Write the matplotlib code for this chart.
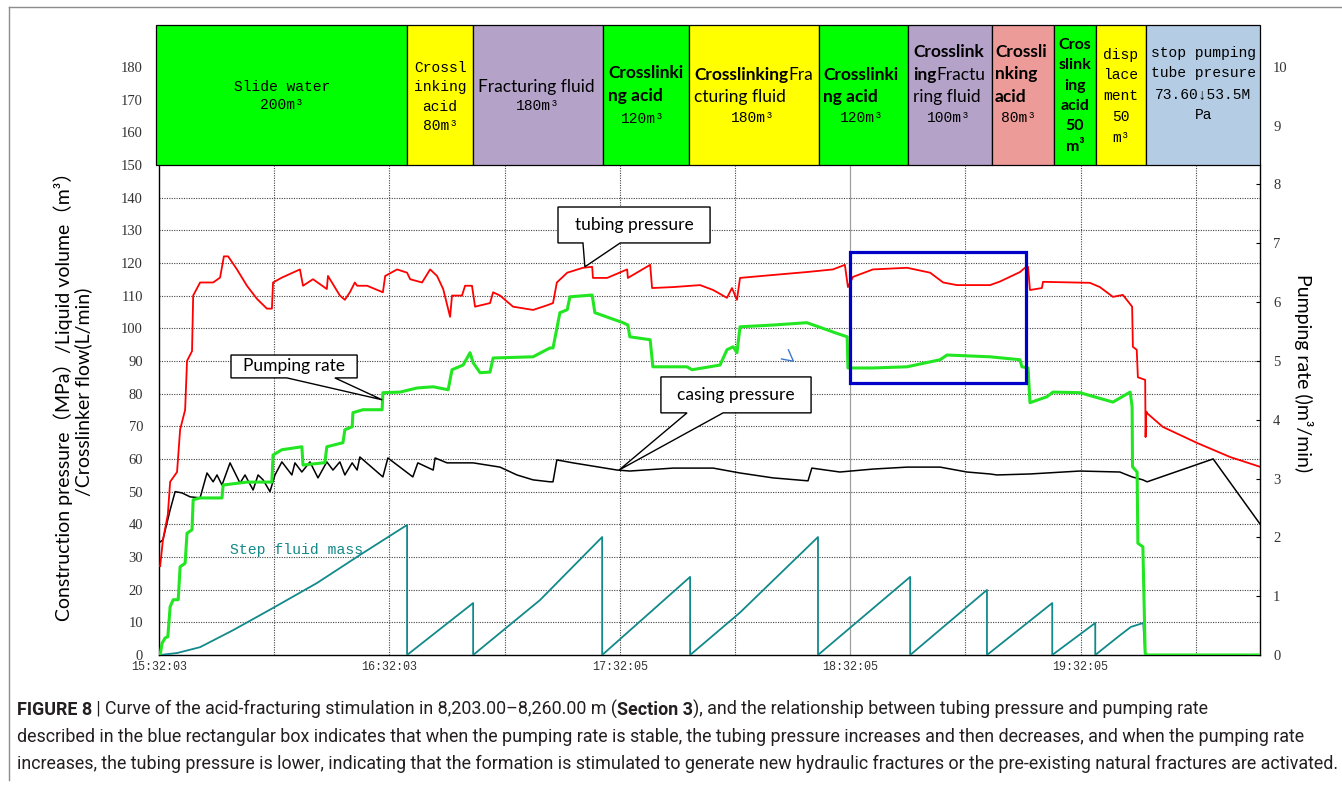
import matplotlib
matplotlib.use("Agg")
import matplotlib.pyplot as plt
from matplotlib.patches import Rectangle, Polygon
from matplotlib.lines import Line2D

# x is minutes after 15:32:03
time_ticks = [0, 60, 120, 180, 240]
time_labels = ["15:32:03", "16:32:03", "17:32:05", "18:32:05", "19:32:05"]

# tubing pressure (MPa)
tubing = [(0.3, 27.2), (1.0, 35), (2.3, 43), (2.9, 53), (4.7, 56), (5.5, 69), (6.8, 75),
          (7.3, 90), (8.6, 93), (8.9, 110), (10.7, 114), (14.1, 114), (15.9, 115.5),
          (16.9, 122), (18.0, 122), (20.3, 118), (22.9, 113), (25.5, 109), (28.1, 106),
          (29.4, 106), (29.7, 114), (32.0, 115.5), (36.7, 118), (37.5, 113), (40.1, 115),
          (43.7, 112), (44.0, 116), (47.1, 110), (48.4, 108.7), (49.7, 111), (51.0, 114),
          (51.6, 113), (54.2, 113), (58.3, 111), (58.9, 116), (62.0, 118), (64.6, 117),
          (65.4, 115), (68.5, 114), (70.6, 118), (72.4, 116), (74.0, 112), (75.8, 103.5),
          (76.3, 110), (78.9, 110), (79.7, 113), (81.5, 113), (82.3, 106.6), (86.2, 107.7),
          (87.0, 111), (88.8, 110), (92.2, 106.6), (97.4, 105.6), (101.0, 107),
          (102.6, 107.7), (103.6, 114), (106.3, 117), (110.4, 118.5), (112.8, 118.8),
          (113.0, 115.4), (116.7, 115.4), (121.9, 118), (122.1, 115.4), (127.9, 119.4),
          (128.4, 112.3), (133.9, 112.6), (140.9, 113.2), (144.3, 111.7), (147.9, 109.3),
          (149.2, 112.3), (150.5, 108.7), (151.3, 115.4), (159.9, 116.3), (168.7, 117.2),
          (175.5, 118), (178.6, 119.4), (179.4, 112.6), (180.7, 115.7), (185.9, 118),
          (194.8, 118.5), (200.8, 117), (204.2, 114), (207.8, 113.2), (216.4, 113.2),
          (219.0, 114.3), (224.2, 117.2), (225.5, 118.5), (226.3, 118.8), (226.8, 111.7),
          (229.9, 112.3), (230.2, 114.2), (242.4, 113.9), (245.0, 112.6), (248.4, 109.6),
          (251.0, 110.2), (253.4, 106.6), (253.6, 94.3), (254.6, 93.4), (254.9, 85),
          (256.8, 84.2), (256.9, 66.7), (257.1, 74.5), (257.3, 74), (261.4, 69.8),
          (270.3, 64.9), (278.9, 60.6), (286.7, 57.6)]

# casing pressure (MPa)
casing = [(0.3, 34.6), (1.0, 35.2), (2.9, 44.4), (4.2, 50), (6.0, 49.6), (8.1, 48.4),
          (10.7, 48.1), (12.5, 55.7), (14.1, 53.0), (15.1, 55.1), (16.4, 52.0), (18.5, 58.8),
          (21.1, 52.6), (22.4, 55.1), (24.5, 50.5), (25.8, 55.1), (27.1, 53.6), (28.9, 50),
          (30.2, 55.1), (32.0, 59.1), (34.6, 55.1), (35.4, 58.8), (37.2, 56), (39.3, 59.1),
          (41.4, 54.2), (43.7, 59.1), (45.3, 56.6), (47.1, 59.1), (48.4, 55.1), (50.3, 58.8),
          (51.6, 56.6), (52.3, 60.6), (58.3, 54.5), (59.6, 60.3), (66.1, 54.5), (67.4, 58.8),
          (71.4, 56.6), (71.9, 60.3), (75.0, 58.8), (81.8, 58.8), (88.8, 57.5), (93.2, 55.1),
          (97.4, 53.6), (101.8, 53.0), (102.6, 53.0), (103.6, 59.7), (107.8, 58.8),
          (119.3, 56.6), (122.6, 56.3), (133.9, 57.2), (144.3, 57.2), (151.3, 55.7),
          (159.9, 54.2), (169.0, 53.3), (170.0, 57.2), (177.3, 56), (185.9, 56.9),
          (194.8, 57.5), (203.4, 57.5), (210.4, 56), (216.4, 55.4), (218.2, 55.1),
          (226.8, 55.4), (239.8, 56.3), (250.2, 56), (253.4, 54.5), (256.2, 53.6),
          (257.3, 53), (274.5, 60), (286.7, 40.1)]

# pumping rate (m3/min), right axis
rate = [(0.3, 0), (0.8, 0.20), (1.6, 0.29), (2.3, 0.31), (2.9, 0.82), (3.7, 0.94), (5.0, 0.94),
        (5.5, 1.50), (6.8, 1.56), (7.3, 2.07), (8.6, 2.13), (8.9, 2.64), (10.7, 2.67),
        (16.4, 2.67), (16.7, 2.89), (22.9, 2.94), (29.4, 2.94), (29.7, 3.40), (32.0, 3.49),
        (37.2, 3.54), (37.5, 3.23), (43.2, 3.27), (43.7, 3.54), (47.9, 3.61), (48.4, 3.83),
        (50.3, 3.88), (50.5, 4.12), (53.1, 4.17), (58.1, 4.17), (58.3, 4.46), (62.8, 4.47),
        (67.2, 4.54), (71.4, 4.56), (75.3, 4.51), (76.3, 4.85), (79.2, 4.93), (81.0, 5.14),
        (81.8, 4.97), (83.6, 4.80), (86.2, 4.81), (87.0, 5.05), (97.4, 5.07), (101.8, 5.22),
        (102.6, 5.22), (104.4, 5.82), (106.3, 5.87), (107.0, 6.09), (112.8, 6.12),
        (113.5, 5.82), (120.8, 5.65), (122.1, 5.61), (122.6, 5.41), (127.9, 5.36),
        (128.6, 4.90), (137.5, 4.90), (138.8, 4.85), (146.1, 4.93), (147.9, 5.19),
        (149.5, 5.24), (150.5, 5.14), (151.3, 5.58), (159.9, 5.61), (168.7, 5.65),
        (173.9, 5.53), (176.0, 5.48), (179.2, 5.41), (179.4, 4.88), (185.9, 4.88),
        (194.8, 4.90), (203.4, 5.02), (205.2, 5.10), (216.4, 5.07), (224.2, 5.02),
        (224.7, 4.90), (226.3, 4.88), (226.8, 4.29), (231.2, 4.39), (232.8, 4.47),
        (239.8, 4.46), (248.4, 4.30), (252.9, 4.47), (253.4, 4.22), (253.5, 3.20),
        (254.7, 3.11), (254.9, 1.90), (256.2, 1.84), (256.8, 0.03), (257.3, 0), (286.7, 0)]

# fluid pumped in the current stage (m3)
step_mass = [(0.3, 0), (4.7, 0.6), (10.7, 2.4), (19.3, 7.6), (29.7, 14.4), (41.1, 22),
             (53.1, 31.2), (64.6, 39.8), (64.6, 0), (81.8, 15.9), (81.8, 0), (99.2, 16.8),
             (115.4, 36.1), (115.4, 0), (138.3, 23.9), (138.3, 0), (151.3, 13),
             (171.6, 36.1), (171.6, 0), (195.6, 23.9), (195.6, 0), (215.6, 19.9),
             (215.6, 0), (232.6, 15.9), (232.6, 0), (243.8, 9.8), (243.8, 0), (250.3, 6.1),
             (253.1, 8.6), (256.3, 9.8), (256.8, 0)]

# treatment stages along the top
stage_edges = [-0.8, 64.6, 81.8, 115.6, 138.0, 171.9, 195.0, 216.9, 233.1, 244.0, 257.0, 286.7]
stage_colors = ["#00ff00", "#ffff00", "#b4a2c8", "#00ff00", "#ffff00", "#00ff00",
                "#b4a2c8", "#ec9b98", "#00ff00", "#ffff00", "#b4cde4"]

X_MAX = 286.7
Y_MAX = 192.8
BAND = 150
RATE_SCALE = 18.0

MONO = dict(family=["Liberation Mono", "DejaVu Sans Mono"], size=10.5)
SANS = dict(family="Lato", size=12.5)
BOLD = dict(family="Lato", size=12.5, weight="bold")
SERIF = dict(family="Liberation Serif", size=10.5, color="#333333")

fig = plt.figure(figsize=(13.42, 7.93), dpi=100)
ax = fig.add_axes([159 / 1342, 1 - 655 / 793, 1101 / 1342, 630 / 793])
ax2 = ax.twinx()
ax.set_xlim(0, X_MAX)
ax.set_ylim(0, Y_MAX)
ax2.set_ylim(0, Y_MAX / RATE_SCALE)

for s in ["top", "right"]:
    ax.spines[s].set_visible(False)
for s in ["top", "left", "bottom"]:
    ax2.spines[s].set_visible(False)
ax.spines["left"].set_bounds(0, BAND)
ax2.spines["right"].set_bounds(0, BAND / RATE_SCALE)
for sp in [ax.spines["left"], ax.spines["bottom"], ax2.spines["right"]]:
    sp.set_linewidth(1.0)

ax.set_yticks(range(0, 190, 10))
ax.set_yticklabels([str(v) for v in range(0, 190, 10)], **SERIF)
ax.tick_params(axis="y", length=0, pad=11.5)
ax.set_xticks(time_ticks)
ax.set_xticklabels(time_labels, family=MONO["family"], size=8.5, color="#333333")
ax.tick_params(axis="x", length=0, pad=4)
ax2.set_yticks(range(0, 11))
ax2.set_yticklabels([str(v) for v in range(0, 11)], **SERIF)
ax2.tick_params(axis="y", direction="in", length=3, width=0.8, pad=9.5)

# dotted grid
for v in range(10, BAND, 10):
    ax.axhline(v, color="#444444", lw=0.8, ls=(0, (1, 1.2)), zorder=1)
for t in range(30, int(X_MAX), 30):
    if t == 180:
        ax.axvline(t, color="#a0a0a0", lw=0.9, zorder=1)
    else:
        ax.axvline(t, color="#444444", lw=0.8, ls=(0, (1, 1.2)), zorder=1)

ax.plot(*zip(*step_mass), color="#12898a", lw=1.3, zorder=3)
ax.plot(*zip(*casing), color="black", lw=1.1, zorder=3)
ax.plot(*zip(*tubing), color="#ff0000", lw=1.3, zorder=3)
ax2.plot(*zip(*rate), color="#22e622", lw=2.2, zorder=3)

ax.text(18.5, 32.1, "Step fluid mass", color="#12898a", va="center",
        family=MONO["family"], size=10.6)

# stage band
for (a, b), c in zip(zip(stage_edges[:-1], stage_edges[1:]), stage_colors):
    ax2.add_patch(Rectangle((a, BAND), b - a, Y_MAX - BAND, transform=ax.transData,
                            facecolor=c, edgecolor="black", lw=0.9, zorder=5, clip_on=False))


def stack(x, y0, lines, step, ha="center", **font):
    for i, s in enumerate(lines):
        ax2.text(x, y0 - i * step, s, ha=ha, va="center", transform=ax.transData,
                 zorder=7, **font)


def runs(x, y, parts):
    s, font = parts[0]
    t = ax2.text(x, y, s, ha="left", va="center", transform=ax.transData, zorder=7, **font)
    for s, font in parts[1:]:
        t = ax2.annotate(s, xy=(1, 0), xycoords=t, ha="left", va="bottom", zorder=7, **font)


stack(32.0, 173.9, ["Slide water", "200m³"], 5.5, **MONO)
stack(73.2, 179.7, ["Crossl", "inking", "acid", "80m³"], 5.95, **MONO)
ax2.text(83.1, 173.9, "Fracturing fluid", va="center", transform=ax.transData, zorder=7, **SANS)
stack(98.7, 168.1, ["180m³"], 0, **MONO)
stack(117.0, 178.2, ["Crosslinki", "ng acid"], 7.2, ha="left", **BOLD)
stack(126.0, 163.9, ["120m³"], 0, **MONO)
runs(139.3, 177.6, [("Crosslinking", BOLD), ("Fra", SANS)])
stack(139.3, 170.8, ["cturing fluid"], 0, ha="left", **SANS)
stack(154.7, 164.4, ["180m³"], 0, **MONO)
stack(172.9, 177.6, ["Crosslinki", "ng acid"], 6.8, ha="left", **BOLD)
stack(183.1, 164.4, ["120m³"], 0, **MONO)
stack(196.4, 184.6, ["Crosslink"], 0, ha="left", **BOLD)
runs(196.4, 177.6, [("ing", BOLD), ("Fractu", SANS)])
stack(196.4, 170.8, ["ring fluid"], 0, ha="left", **SANS)
stack(205.7, 164.4, ["100m³"], 0, **MONO)
stack(217.7, 184.6, ["Crossli", "nking", "acid"], 6.9, ha="left", **BOLD)
stack(223.7, 164.4, ["80m³"], 0, **MONO)
stack(238.5, 186.7, ["Cros", "slink", "ing", "acid", "50", "m³"], 6.24,
      family="Lato", weight="bold", size=11.5)
stack(250.5, 183.7, ["disp", "lace", "ment", "50", "m³"], 6.35, **MONO)
stack(271.9, 184.3, ["stop pumping", "tube presure", "73.60↓53.5M", "Pa"], 6.33, **MONO)


def callout(text, x0, x1, y0, y1, b0, b1, tip):
    verts = [(x0, y1), (x1, y1), (x1, y0), (b1, y0), tip, (b0, y0), (x0, y0)]
    ax2.add_patch(Polygon(verts, closed=True, transform=ax.transData, facecolor="white",
                          edgecolor="black", lw=1.0, zorder=6))
    ax2.text((x0 + x1) / 2, (y0 + y1) / 2, text, ha="center", va="center",
             transform=ax.transData, zorder=7, **SANS)


callout("tubing pressure", 103.9, 143.5, 126.1, 137.1, 110.4, 120.1, (110.9, 118.8))
callout("Pumping rate", 18.75, 51.6, 84.8, 91.8, 33.3, 45.8, (58.1, 78.1))
callout("casing pressure", 130.7, 169.8, 74.1, 85.1, 137.5, 146.9, (119.8, 56.6))

# region discussed in the text
ax2.add_patch(Rectangle((179.9, 83.3), 45.9, 40.1, transform=ax.transData, fill=False,
                        edgecolor="#0000c8", lw=2.3, zorder=6))
ax2.plot([162.1, 165.2, 163.9], [90.6 / RATE_SCALE, 89.9 / RATE_SCALE, 93.4 / RATE_SCALE],
         color="#3a78d0", lw=1.0, zorder=6)

fig.text(73 / 1342, 1 - 392 / 793,
         "Construction pressure（MPa）/Liquid volume（m³）\n/Crosslinker flow(L/min)",
         rotation=90, ha="center", va="center", multialignment="center", linespacing=1.1,
         family=["Lato", "Noto Sans CJK SC"], size=14)
fig.text(1304 / 1342, 1 - 373 / 793, "Pumping rate ()m³/min)", rotation=-90,
         ha="center", va="center", family="Lato", size=14)

# panel frame
fig.add_artist(Line2D([9 / 1342, 9 / 1342], [1 - 7 / 793, 1 - 780 / 793], color="#8c8c8c", lw=1.0))
fig.add_artist(Line2D([9 / 1342, 1.0], [1 - 7 / 793, 1 - 7 / 793], color="#8c8c8c", lw=1.0))

CAP = dict(family="Roboto", size=12.85, color="#231f20")
CAP_B = dict(CAP, weight="bold")
cap_x = 17 / 1342
t = fig.text(cap_x, 1 - 710 / 793, "FIGURE 8", va="center", **CAP_B)
for s, f in [(" | Curve of the acid-fracturing stimulation in 8,203.00–8,260.00 m (", CAP),
             ("Section 3", CAP_B),
             ("), and the relationship between tubing pressure and pumping rate", CAP)]:
    t = ax2.annotate(s, xy=(1, 0), xycoords=t, ha="left", va="bottom", annotation_clip=False, **f)
fig.text(cap_x, 1 - 737 / 793,
         "described in the blue rectangular box indicates that when the pumping rate is stable, "
         "the tubing pressure increases and then decreases, and when the pumping rate",
         va="center", **CAP)
fig.text(cap_x, 1 - 764 / 793,
         "increases, the tubing pressure is lower, indicating that the formation is stimulated "
         "to generate new hydraulic fractures or the pre-existing natural fractures are activated.",
         va="center", **CAP)

fig.savefig("out.png", dpi=100)
